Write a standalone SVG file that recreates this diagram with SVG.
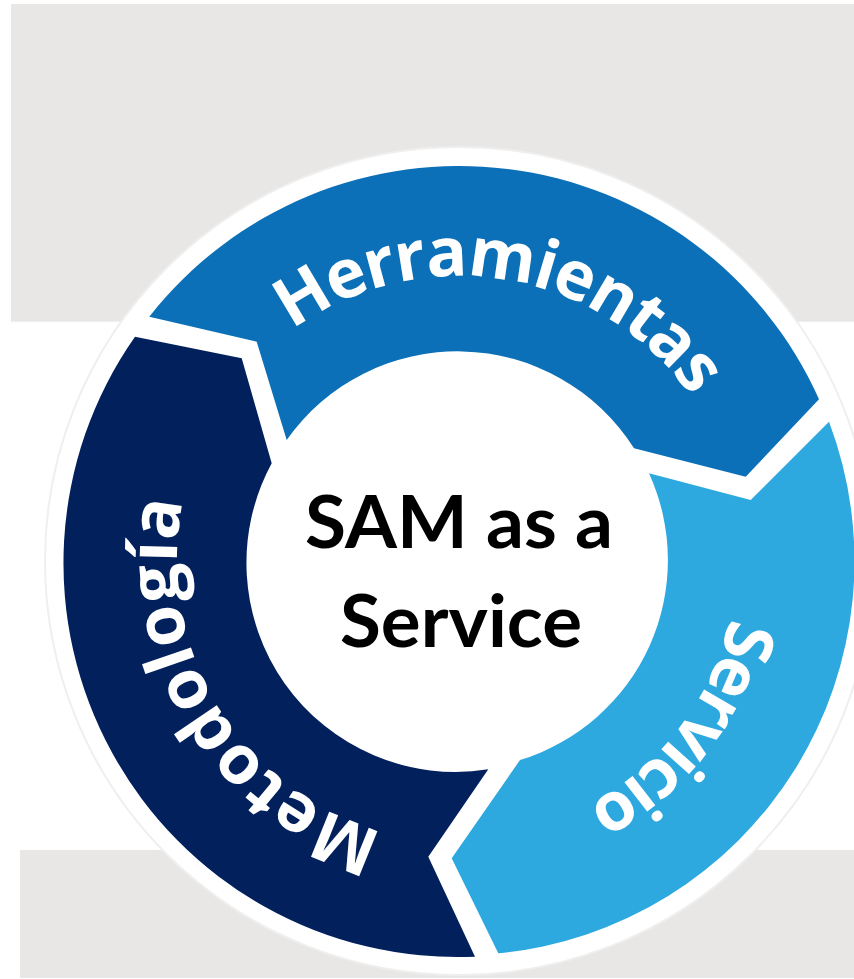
<svg xmlns="http://www.w3.org/2000/svg" width="854" height="979" viewBox="0 0 854 979">
  <style>
    .bg { fill: #e8e7e5; }
    .ring-label { fill: #ffffff; font-family: "Open Sans", "Noto Sans", "Liberation Sans", sans-serif; font-weight: 700; font-size: 68px; }
    .center-label { fill: #000000; font-family: Lato, "Open Sans", "Liberation Sans", sans-serif; font-weight: 700; font-size: 73px; text-anchor: middle; }
  </style>
  <defs>
    <path id="arc-herramientas" d="M 292.07 330.24 A 284 284 0 0 1 691.64 397.10"/>
    <path id="arc-servicio" d="M 729.95 617.59 A 277 277 0 0 1 586.90 805.70"/>
    <path id="arc-metodologia" d="M 383.64 831.74 A 282 282 0 0 1 183.16 501.37"/>
  </defs>

  <rect width="854" height="979" fill="#ffffff"/>
  <rect class="bg" x="11" y="4" width="843" height="317.7"/>
  <rect class="bg" x="20" y="850" width="834" height="128"/>

  <circle cx="459" cy="561" r="414" fill="#ffffff" stroke="#efefef" stroke-width="2"/>

  <g id="herramientas">
    <path d="M 149.3 316.7 A 394 394 0 0 1 819 399.3 L 745.7 476.7 L 634 448.3 A 209 209 0 0 0 286.7 440 L 256.7 341.7 Z" fill="#0b70b7"/>
    <text class="ring-label"><textPath href="#arc-herramientas" textLength="451" lengthAdjust="spacing">Herramientas</textPath></text>
  </g>

  <g id="servicio">
    <path d="M 829 421.7 A 394 394 0 0 1 498.3 953.3 L 451.7 858.3 L 520 760 A 209 209 0 0 0 649 473.3 L 750.7 500 Z" fill="#2da9e0"/>
    <text class="ring-label"><textPath href="#arc-servicio" textLength="244" lengthAdjust="spacing">Servicio</textPath></text>
  </g>

  <g id="metodologia">
    <path d="M 475 956.7 A 394 394 0 0 1 135 336.7 L 241.7 358.3 L 271.7 463.3 A 209 209 0 0 0 488.3 769.3 L 428.3 856.7 Z" fill="#02205c"/>
    <text class="ring-label"><textPath href="#arc-metodologia" textLength="426" lengthAdjust="spacing">Metodología</textPath></text>
  </g>

  <g id="center">
    <text class="center-label" x="459" y="548" textLength="308" lengthAdjust="spacingAndGlyphs">SAM as a</text>
    <text class="center-label" x="461" y="647" textLength="242" lengthAdjust="spacingAndGlyphs">Service</text>
  </g>

  <g id="connectors"/>
</svg>
